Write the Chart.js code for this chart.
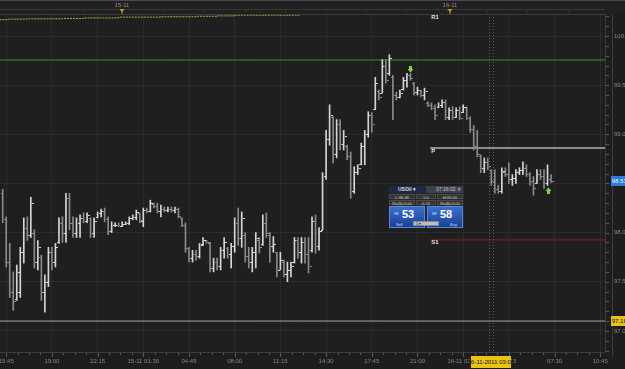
<!DOCTYPE html>
<html>
<head>
<meta charset="utf-8">
<script src="https://cdn.jsdelivr.net/npm/chart.js@4.4.0/dist/chart.umd.min.js"></script>
<style>
  html, body { margin: 0; padding: 0; background: #1d1d1d; overflow: hidden; }
  #wrap { position: relative; width: 625px; height: 369px; }
  #ticket { position: absolute; left: 389px; top: 186px; width: 74px; height: 42px;
            font-family: "Liberation Sans", Arial, sans-serif; color: #ddd; background: #262626; }
  #ticket .thead { position: absolute; left: 0; top: 0; width: 74px; height: 7px; font-size: 5px; line-height: 7px; }
  #ticket .sym { position: absolute; left: 0; width: 36px; height: 7px; background: #1f2942; font-weight: bold; text-indent: 9px; }
  #ticket .clk { position: absolute; left: 37px; width: 37px; height: 7px; background: #3c404a; text-align: right; padding-right: 2px; box-sizing: border-box; color: #ccc; }
  #ticket .trow { position: absolute; left: 0; width: 74px; height: 5px; font-size: 4px; line-height: 5px; }
  #ticket .trow span { position: absolute; top: 0; height: 5px; background: #333; border: 1px solid #4a4a4a; box-sizing: border-box; text-align: center; color: #ccc; }
  #ticket .btn { position: absolute; top: 20px; width: 36px; height: 22px; background: linear-gradient(#3a6fd0, #1a3f95); box-sizing: border-box; border: 1px solid #5a86d8; }
  #ticket .btn .big { position: absolute; top: 1px; left: 12px; font-size: 11px; font-weight: bold; color: #fff; line-height: 12px; }
  #ticket .btn .pre { position: absolute; top: 4px; left: 4px; font-size: 4px; color: #cfe; }
  #ticket .btn .act { position: absolute; top: 15px; font-size: 4px; color: #dde; }
  #ticket .amt { position: absolute; left: 24px; top: 35px; width: 26px; height: 5px; background: #bdbdbd; border: 1px solid #888; box-sizing: border-box; font-size: 4px; line-height: 4px; color: #222; text-indent: 2px; }
</style>
</head>
<body>
<div id="wrap">
  <canvas id="chart" width="625" height="369"></canvas>
  <div id="ticket">
    <div class="thead"><span class="sym">USOil &#9662;</span><span class="clk">07:16:02 &#10005;</span></div>
    <div class="trow" style="top:8px"><span style="left:0;width:26px">L:98.38</span><span style="left:27px;width:20px">5.0</span><span style="left:48px;width:26px">H:99.40</span></div>
    <div class="trow" style="top:14px"><span style="left:0;width:26px">Ro(S):0.00</span><span style="left:27px;width:20px">0.74</span><span style="left:48px;width:26px">Ro(B):0.00</span></div>
    <div class="btn" style="left:0"><span class="pre">98</span><span class="big">53</span><span class="act" style="left:6px">Sell</span></div>
    <div class="btn" style="left:38px"><span class="pre">98</span><span class="big">58</span><span class="act" style="left:22px">Buy</span></div>
    <div class="amt">1 &#9662;</div>
  </div>
</div>
<script>
// 15 minute bars, USOil, 14-11 15:30 -> 16-11 ~07:00
const highs = [98.44,98.16,97.89,97.60,97.67,97.85,98.15,98.16,98.36,98.03,
  97.92,97.77,97.57,97.85,97.85,97.89,98.15,98.16,98.40,98.40,
  98.16,98.15,98.18,98.20,98.20,98.15,98.15,98.21,98.24,98.25,
  98.16,98.11,98.10,98.10,98.11,98.11,98.16,98.18,98.23,98.20,
  98.25,98.25,98.33,98.30,98.30,98.28,98.26,98.26,98.26,98.26,
  98.25,98.15,98.10,97.85,97.82,97.82,97.89,97.95,97.92,97.90,
  97.74,97.74,97.85,97.95,97.85,97.89,98.15,98.25,98.21,98.00,
  97.85,97.85,98.00,97.95,98.18,98.20,98.00,97.96,97.80,97.80,
  97.72,97.70,97.70,97.95,97.95,97.95,97.95,97.95,98.16,98.18,
  98.05,98.61,99.04,99.30,99.18,99.15,99.15,99.04,98.89,98.82,
  98.67,98.69,98.91,99.04,99.23,99.22,99.58,99.45,99.76,99.76,
  99.81,99.60,99.43,99.45,99.58,99.62,99.62,99.53,99.48,99.45,
  99.47,99.33,99.32,99.30,99.32,99.35,99.35,99.27,99.28,99.27,
  99.28,99.30,99.28,99.18,99.09,99.04,98.79,98.76,98.76,98.64,
  98.64,98.48,98.66,98.66,98.71,98.59,98.64,98.66,98.72,98.69,
  98.61,98.57,98.64,98.64,98.64,98.69,98.59];
const lows = [98.10,97.65,97.34,97.21,97.31,97.34,97.69,97.92,97.95,97.64,
  97.62,97.31,97.19,97.45,97.62,97.65,97.89,97.90,97.90,98.03,
  97.95,97.95,97.95,98.10,98.10,97.95,97.95,98.15,98.16,98.11,
  97.98,98.00,98.06,98.06,98.06,98.08,98.08,98.13,98.13,98.10,
  98.06,98.20,98.21,98.25,98.20,98.16,98.21,98.21,98.21,98.20,
  98.15,98.06,97.80,97.70,97.70,97.72,97.74,97.87,97.89,97.60,
  97.60,97.62,97.62,97.74,97.74,97.64,97.80,97.87,97.85,97.70,
  97.64,97.60,97.64,97.79,97.87,97.95,97.70,97.80,97.55,97.62,
  97.55,97.50,97.55,97.69,97.74,97.69,97.69,97.59,97.80,97.79,
  97.82,98.03,98.54,98.89,98.71,98.76,98.84,98.84,98.74,98.35,
  98.40,98.59,98.69,98.69,98.97,99.02,99.25,99.35,99.42,99.52,
  99.60,99.15,99.35,99.37,99.45,99.48,99.55,99.40,99.40,99.38,
  99.35,99.28,99.25,99.15,99.27,99.27,99.15,99.15,99.15,99.17,
  99.15,99.22,99.15,99.02,98.84,98.77,98.61,98.61,98.64,98.48,
  98.40,98.40,98.40,98.57,98.50,98.48,98.50,98.59,98.59,98.57,
  98.48,98.38,98.50,98.54,98.45,98.48,98.51];
const opens = [98.40,98.14,97.70,97.40,97.32,97.40,97.80,98.05,97.98,98.00,
  97.70,97.75,97.40,97.50,97.80,97.70,97.90,98.10,98.00,98.35,
  98.10,98.00,98.10,98.15,98.12,98.15,98.00,98.16,98.20,98.22,
  98.14,98.02,98.08,98.08,98.07,98.09,98.10,98.15,98.16,98.20,
  98.12,98.23,98.22,98.29,98.27,98.22,98.24,98.23,98.24,98.23,
  98.24,98.15,98.08,97.84,97.74,97.78,97.76,97.88,97.91,97.89,
  97.64,97.70,97.66,97.82,97.84,97.78,97.86,98.10,97.95,97.98,
  97.76,97.70,97.80,97.92,97.88,98.10,97.98,97.86,97.80,97.62,
  97.70,97.58,97.62,97.70,97.92,97.80,97.90,97.78,97.82,98.12,
  97.86,98.03,98.58,98.95,99.18,98.80,99.10,98.90,98.88,98.78,
  98.42,98.62,98.70,98.88,99.00,99.20,99.26,99.44,99.42,99.70,
  99.62,99.58,99.40,99.38,99.46,99.55,99.60,99.52,99.43,99.45,
  99.40,99.32,99.30,99.27,99.28,99.30,99.33,99.18,99.25,99.18,
  99.25,99.23,99.27,99.17,99.05,98.88,98.78,98.66,98.72,98.64,
  98.52,98.44,98.42,98.62,98.60,98.55,98.56,98.62,98.64,98.66,
  98.60,98.52,98.50,98.60,98.58,98.50,98.55];
const closes = [98.14,97.70,97.40,97.30,97.60,97.80,98.05,97.98,98.30,97.70,
  97.85,97.40,97.50,97.80,97.70,97.85,98.10,98.00,98.35,98.10,
  98.00,98.10,98.15,98.12,98.18,98.00,98.12,98.20,98.22,98.14,
  98.02,98.08,98.08,98.07,98.09,98.10,98.15,98.16,98.21,98.13,
  98.23,98.22,98.30,98.27,98.22,98.24,98.23,98.24,98.23,98.24,
  98.17,98.08,97.84,97.74,97.78,97.76,97.87,97.92,97.90,97.64,
  97.70,97.66,97.82,97.90,97.78,97.86,98.10,97.95,98.15,97.76,
  97.70,97.80,97.95,97.85,98.10,98.00,97.86,97.88,97.62,97.72,
  97.58,97.62,97.66,97.92,97.80,97.90,97.78,97.66,98.12,97.86,
  98.02,98.58,98.95,99.20,98.80,99.10,98.90,98.98,98.78,98.42,
  98.62,98.66,98.88,99.00,99.20,99.10,99.52,99.38,99.70,99.55,
  99.78,99.40,99.38,99.42,99.55,99.60,99.57,99.43,99.45,99.40,
  99.44,99.30,99.27,99.20,99.30,99.33,99.18,99.25,99.18,99.25,
  99.17,99.28,99.17,99.05,98.88,98.80,98.66,98.72,98.68,98.52,
  98.44,98.42,98.63,98.60,98.55,98.56,98.62,98.64,98.66,98.60,
  98.52,98.45,98.60,98.58,98.50,98.55,98.53];

// time axis (bar index -> label)
const timePos = [1, 14, 27, 40, 53, 66, 79, 92, 105, 118, 131, 144, 157, 170];
const timeLabels = ['15:45', '19:00', '22:15', '15-11 01:30', '04:45', '08:00', '11:15',
  '14:30', '17:45', '21:00', '16-11 01:00', '04:15', '07:30', '10:45'];
const dayPos = [34, 127.3];
const dayLabels = ['15-11', '16-11'];

// price axis
const priceTicks = [97.0, 97.5, 98.0, 98.5, 99.0, 99.5, 100.0];
const lastPrice = 98.53;
const alertPrice = 97.10;

// levels
const greenLevel = 99.756;
const pivotNames = ['R1', 'P', 'S1'];
const pivotVals = [100.19, 98.86, 97.925];
const pivotStart = 121.6;

// dotted indicator on top (step points)
const indX = [-0.8, 1.5, 6.9, 17, 23, 33, 45, 55, 61, 66, 77.5, 84.6];
const indY = [100.160, 100.166, 100.172, 100.175, 100.179, 100.184, 100.192, 100.196, 100.201, 100.205, 100.212, 100.212];

// signals, cursor
const signalIdx = [116, 155];
const signalVal = [99.66, 98.42];
const signalDir = ['down', 'up'];
const cursorIdx = [138.35, 139.5];
const cursorLabel = '16-11-2011 03:08';

const xMin = -0.77, xMax = 171.35;
const yMin = 96.775, yMax = 100.224;

const barData = highs.map((h, i) => ({ x: i, y: [lows[i], h] }));
const barColors = closes.map((c, i) => c >= opens[i] ? '#d6d6d6' : '#8a8a8a');

// petit plugin pour les décorations de la plateforme
const deco = {
  id: 'deco',
  beforeDraw(chart) {
    const c = chart.ctx, a = chart.chartArea;
    c.save();
    c.fillStyle = '#1d1d1d';
    c.fillRect(0, 0, chart.width, chart.height);
    c.fillStyle = '#1f1f1f';
    c.fillRect(a.left, a.top, a.right - a.left, a.bottom - a.top);
    c.restore();
  },
  afterDatasetsDraw(chart) {
    const c = chart.ctx, xs = chart.scales.x, ys = chart.scales.y, a = chart.chartArea;
    c.save();
    // open / close ticks
    for (let i = 0; i < opens.length; i++) {
      const x = Math.round(xs.getPixelForValue(i));
      c.fillStyle = barColors[i];
      c.fillRect(x - 2, Math.round(ys.getPixelForValue(opens[i])), 2, 1);
      c.fillRect(x + 1, Math.round(ys.getPixelForValue(closes[i])), 2, 1);
    }
    // cursor lines
    c.strokeStyle = '#5c5c5c';
    c.setLineDash([1, 2]);
    c.lineWidth = 1;
    cursorIdx.forEach(v => {
      const x = Math.round(xs.getPixelForValue(v)) + 0.5;
      c.beginPath(); c.moveTo(x, a.top); c.lineTo(x, a.bottom); c.stroke();
    });
    c.setLineDash([]);
    // pivot labels
    c.font = 'bold 6px "Liberation Sans"';
    c.fillStyle = '#e8e8e8';
    c.textBaseline = 'middle';
    const px = xs.getPixelForValue(pivotStart);
    pivotNames.forEach((n, k) => {
      let y = ys.getPixelForValue(pivotVals[k]);
      if (n === 'P') y += 3;
      if (n === 'S1') y += 2;
      c.fillText(n, px + 1, y);
    });
    // signal arrows
    c.fillStyle = '#7fd43a';
    signalIdx.forEach((v, k) => {
      const x = Math.round(xs.getPixelForValue(v)), y = Math.round(ys.getPixelForValue(signalVal[k]));
      c.beginPath();
      if (signalDir[k] === 'down') {
        c.rect(x - 1, y - 3, 3, 3);
        c.moveTo(x - 2.5, y); c.lineTo(x + 3.5, y); c.lineTo(x + 0.5, y + 3.5);
      } else {
        c.rect(x - 1, y, 3, 3);
        c.moveTo(x - 2.5, y); c.lineTo(x + 3.5, y); c.lineTo(x + 0.5, y - 3.5);
      }
      c.fill();
    });
    c.restore();
  },
  afterDraw(chart) {
    const c = chart.ctx, xs = chart.scales.x, ys = chart.scales.y, a = chart.chartArea;
    c.save();
    // header strip
    c.fillStyle = '#202020';
    c.fillRect(0, 0, chart.width, a.top);
    c.fillStyle = '#4a4a4a';
    c.fillRect(0, 0, chart.width, 1);
    c.fillStyle = '#363636';
    c.fillRect(0, 9, a.right, 1);
    for (let v = -0.2; v < xMax; v += 11.5) {
      c.fillRect(Math.round(xs.getPixelForValue(v)), 9, 1, 3);
    }
    c.font = '6px "Liberation Sans"';
    c.textAlign = 'center';
    c.textBaseline = 'middle';
    dayPos.forEach((v, k) => {
      const x = Math.round(xs.getPixelForValue(v));
      c.fillStyle = '#8c8c8c';
      c.fillText(dayLabels[k], x, 5);
      c.fillStyle = '#d59a1c';
      c.beginPath(); c.moveTo(x - 2.5, 9); c.lineTo(x + 2.5, 9); c.lineTo(x, 12); c.fill();
      c.fillRect(x - 0.5, 11, 1, 3);
    });
    // borders
    c.strokeStyle = '#3c3c3c';
    c.lineWidth = 1;
    c.beginPath();
    c.moveTo(a.left, a.top + 0.5); c.lineTo(a.right + 0.5, a.top + 0.5);
    c.lineTo(a.right + 0.5, a.bottom - 0.5); c.lineTo(a.left, a.bottom - 0.5);
    c.stroke();
    c.beginPath(); c.moveTo(a.right + 7.5, a.top); c.lineTo(a.right + 7.5, a.bottom + 4); c.stroke();
    // minor ticks
    c.fillStyle = '#5a5a5a';
    for (let v = 96.8; v < yMax; v += 0.1) {
      const y = Math.round(ys.getPixelForValue(v));
      c.fillRect(a.right + 1, y, 3, 1);
    }
    for (let v = 1; v < xMax; v += 3.25) {
      const x = Math.round(xs.getPixelForValue(v));
      c.fillRect(x, a.bottom, 1, (v - 1) % 13 === 0 ? 4 : 2);
    }
    // price boxes
    c.font = '6px "Liberation Sans"';
    c.textAlign = 'left';
    const boxes = [[lastPrice, '#2c7bd6', '#fff'], [alertPrice, '#e6c21a', '#111']];
    boxes.forEach(b => {
      const y = Math.round(ys.getPixelForValue(b[0]));
      c.fillStyle = b[1];
      c.fillRect(a.right + 6, y - 5, 20, 10);
      c.fillStyle = b[2];
      c.fillText(b[0].toFixed(2), a.right + 7, y + 0.5);
    });
    // cursor time box
    const cx = xs.getPixelForValue((cursorIdx[0] + cursorIdx[1]) / 2);
    c.fillStyle = '#e8c415';
    c.fillRect(Math.round(cx) - 20, a.bottom + 3, 40, 12);
    c.fillStyle = '#111';
    c.textAlign = 'center';
    c.fillText(cursorLabel, cx, a.bottom + 9.5);
    c.restore();
  }
};

const ctx = document.getElementById('chart').getContext('2d');
new Chart(ctx, {
  type: 'bar',
  data: {
    datasets: [
      { type: 'bar', data: barData, backgroundColor: barColors, barThickness: 1, order: 1 },
      { type: 'line', data: [{ x: xMin, y: greenLevel }, { x: xMax, y: greenLevel }],
        borderColor: '#3d8f2a', borderWidth: 1, pointRadius: 0, order: 2 },
      { type: 'line', data: [{ x: pivotStart, y: pivotVals[1] }, { x: xMax, y: pivotVals[1] }],
        borderColor: '#8c8c8c', borderWidth: 2, pointRadius: 0, order: 2 },
      { type: 'line', data: [{ x: pivotStart, y: pivotVals[2] }, { x: xMax, y: pivotVals[2] }],
        borderColor: '#8e1e1e', borderWidth: 1, pointRadius: 0, order: 2 },
      { type: 'line', data: [{ x: xMin, y: alertPrice }, { x: xMax, y: alertPrice }],
        borderColor: '#a4a49c', borderWidth: 1, pointRadius: 0, order: 2 },
      { type: 'line', data: indX.map((x, i) => ({ x: x, y: indY[i] })), stepped: 'after',
        borderColor: '#b9aa5c', borderWidth: 1, borderDash: [2, 1], pointRadius: 0, order: 2 }
    ]
  },
  options: {
    responsive: false,
    animation: false,
    devicePixelRatio: 1,
    layout: { padding: { top: 14, left: 0, right: 0, bottom: 0 } },
    plugins: { legend: { display: false }, tooltip: { enabled: false } },
    scales: {
      x: {
        type: 'linear', min: xMin, max: xMax, offset: false,
        grid: { color: '#2b2b2b', drawTicks: false, offset: false },
        border: { display: false },
        ticks: {
          color: '#8a8a8a', font: { size: 6, family: 'Liberation Sans' }, padding: 5,
          autoSkip: false, maxRotation: 0,
          callback: (v, i) => timeLabels[i]
        },
        afterBuildTicks: s => { s.ticks = timePos.map(v => ({ value: v })); },
        afterFit: s => { s.height = 16; s.paddingLeft = 0; s.paddingRight = 0; }
      },
      y: {
        position: 'right', min: yMin, max: yMax,
        grid: { color: '#2b2b2b', drawTicks: false },
        border: { display: false },
        ticks: {
          color: '#8a8a8a', font: { size: 6, family: 'Liberation Sans' }, padding: 9,
          callback: v => v.toFixed(2)
        },
        afterBuildTicks: s => { s.ticks = priceTicks.map(v => ({ value: v })); },
        afterFit: s => { s.width = 20; s.paddingTop = 0; s.paddingBottom = 0; }
      }
    }
  },
  plugins: [deco]
});
</script>
</body>
</html>
